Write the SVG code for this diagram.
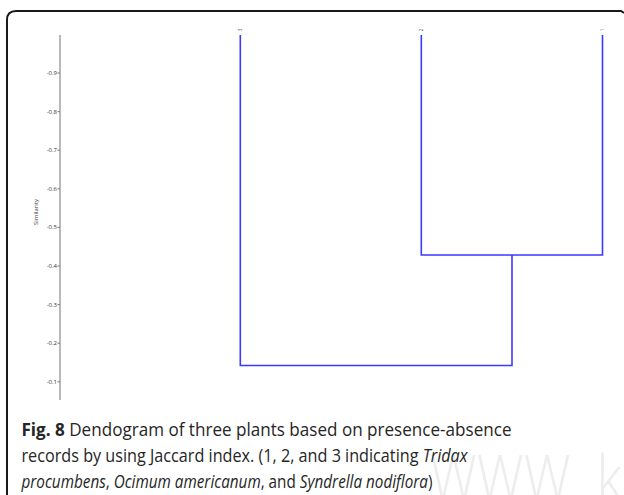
<svg xmlns="http://www.w3.org/2000/svg" width="624" height="495" viewBox="0 0 624 495">
<style>
.frame{fill:none;stroke:#1a1a1a;stroke-width:2}
.axis{stroke:#8a8a8a;stroke-width:1.2;fill:none}
.tick{font-family:"Open Sans","Liberation Sans",sans-serif;font-size:6px;fill:#333;text-anchor:end}
.leaf{font-family:"Open Sans","Liberation Sans",sans-serif;font-size:4.5px;fill:#444;text-anchor:middle}
.branch{stroke:#3a3aff;stroke-width:1.6;fill:none}
.cap{font-family:"Open Sans","Liberation Sans",sans-serif;font-size:18px;fill:#262626}
.wm{font-family:"Open Sans","Liberation Sans",sans-serif;font-size:62px;font-weight:300;fill:#ededed}
</style>
<rect width="624" height="495" fill="#fff"/>
<text class="wm" x="430" y="500" textLength="192" lengthAdjust="spacingAndGlyphs">WWW. k</text>
<path class="frame" d="M7,495 V20 Q7,11 16,11 H621 L624,13"/>
<g id="axis">
<line class="axis" x1="60" y1="35" x2="60" y2="400"/>
<g class="axis">
<line x1="57.5" y1="73" x2="60" y2="73"/>
<line x1="57.5" y1="111.6" x2="60" y2="111.6"/>
<line x1="57.5" y1="150.2" x2="60" y2="150.2"/>
<line x1="57.5" y1="188.8" x2="60" y2="188.8"/>
<line x1="57.5" y1="227.4" x2="60" y2="227.4"/>
<line x1="57.5" y1="266" x2="60" y2="266"/>
<line x1="57.5" y1="304.6" x2="60" y2="304.6"/>
<line x1="57.5" y1="343.2" x2="60" y2="343.2"/>
<line x1="57.5" y1="381.8" x2="60" y2="381.8"/>
</g>
<text class="tick" x="57" y="75">-0.9</text>
<text class="tick" x="57" y="113.6">-0.8</text>
<text class="tick" x="57" y="152.2">-0.7</text>
<text class="tick" x="57" y="190.8">-0.6</text>
<text class="tick" x="57" y="229.4">-0.5</text>
<text class="tick" x="57" y="268">-0.4</text>
<text class="tick" x="57" y="306.6">-0.3</text>
<text class="tick" x="57" y="345.2">-0.2</text>
<text class="tick" x="57" y="383.8">-0.1</text>
<text class="tick" style="text-anchor:middle" transform="translate(38,212) rotate(-90)">Similarity</text>
</g>
<g id="leaf-3"><text class="leaf" transform="translate(241.5,30) rotate(-90)">3</text></g>
<g id="leaf-2"><text class="leaf" transform="translate(422.5,30) rotate(-90)">2</text></g>
<g id="leaf-1"><text class="leaf" transform="translate(603.5,30) rotate(-90)">1</text></g>
<g id="connectors">
<path class="branch" d="M421.3,35 V255 H602.5 V35"/>
<path class="branch" d="M240.3,35 V365.5 H512 V255"/>
</g>
<g id="caption">
<text class="cap" x="21.5" y="436" textLength="490" lengthAdjust="spacingAndGlyphs"><tspan font-weight="bold">Fig. 8</tspan> Dendogram of three plants based on presence-absence</text>
<text class="cap" x="21.5" y="462" textLength="446" lengthAdjust="spacingAndGlyphs">records by using Jaccard index. (1, 2, and 3 indicating <tspan font-style="italic">Tridax</tspan></text>
<text class="cap" x="21.5" y="488" textLength="411" lengthAdjust="spacingAndGlyphs"><tspan font-style="italic">procumbens</tspan>, <tspan font-style="italic">Ocimum americanum</tspan>, and <tspan font-style="italic">Syndrella nodiflora</tspan>)</text>
</g>
</svg>
